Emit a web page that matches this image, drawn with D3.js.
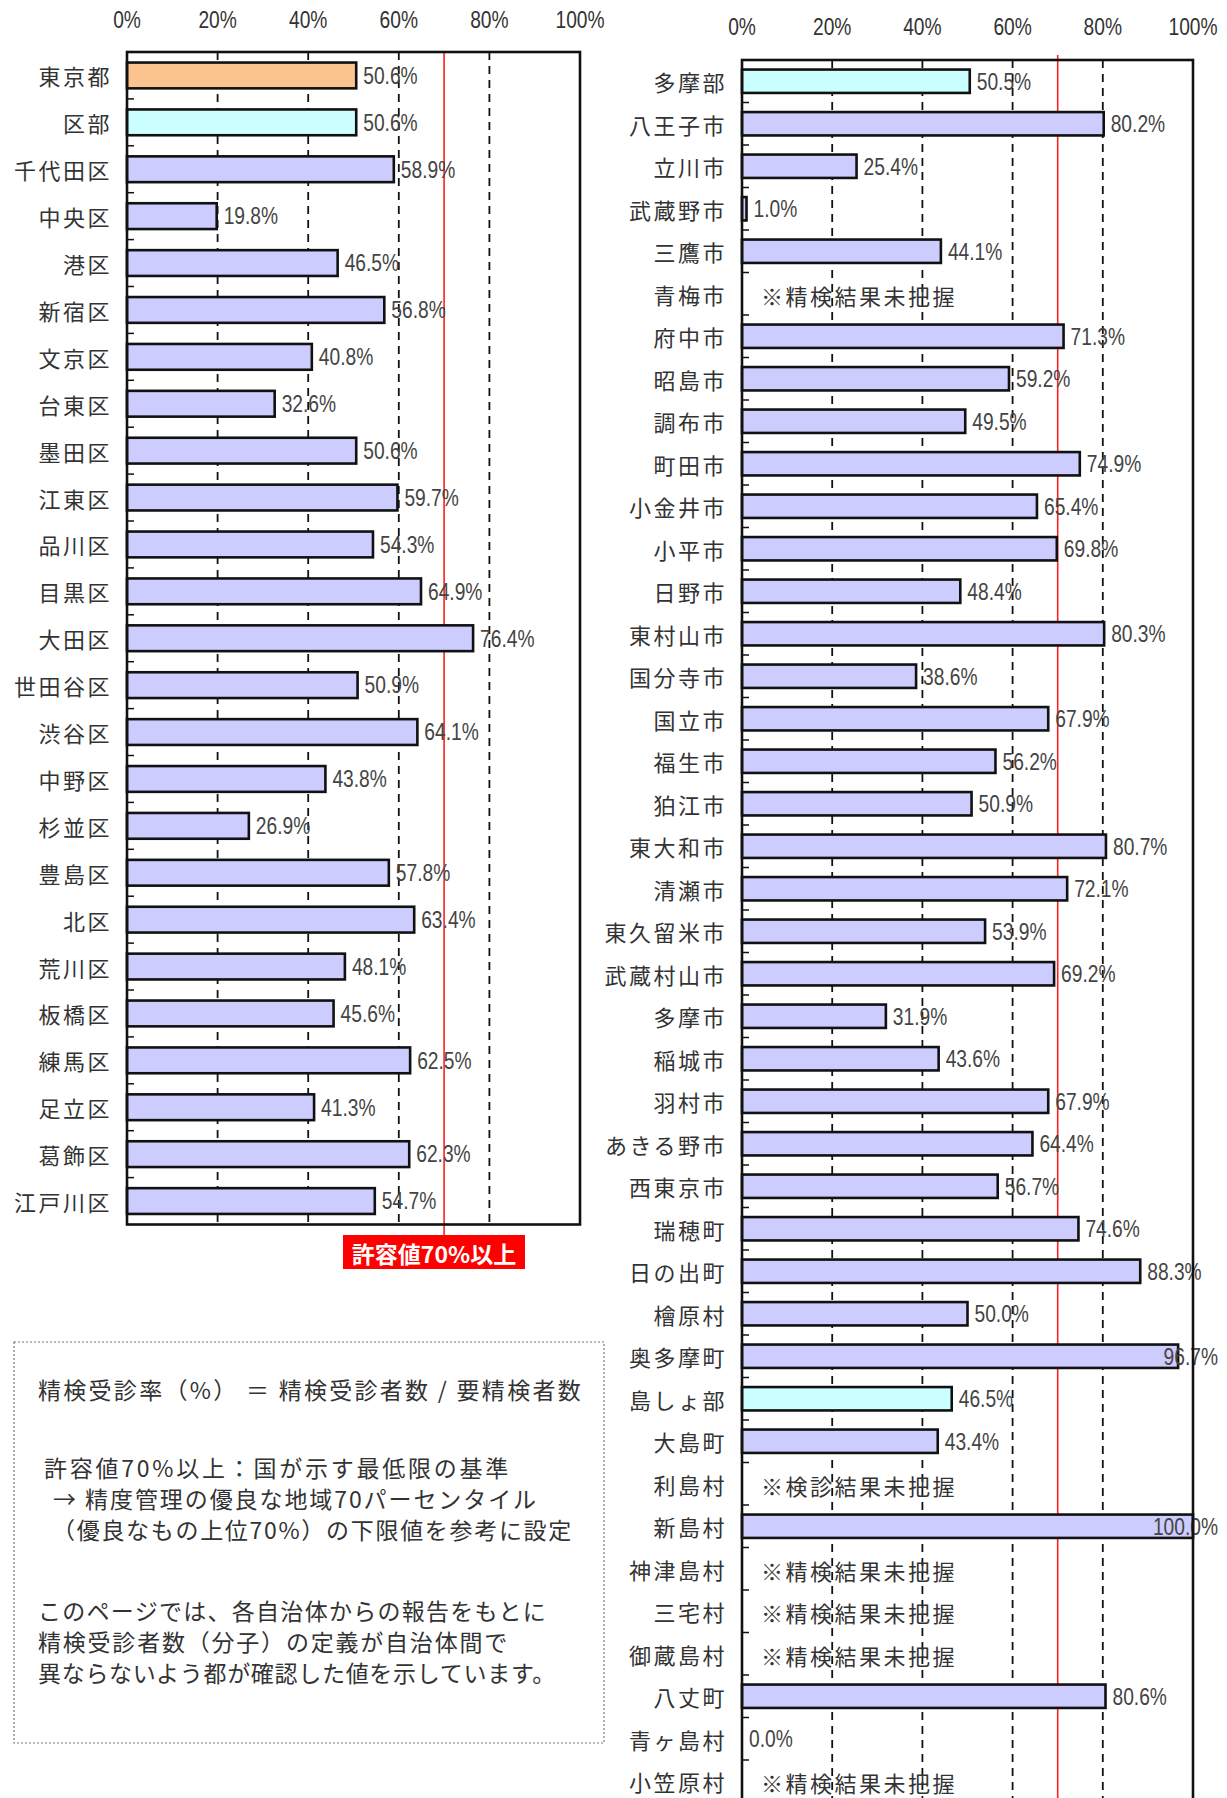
<!DOCTYPE html>
<html>
<head>
<meta charset="utf-8">
<script src="https://cdn.jsdelivr.net/npm/d3@7"></script>
<style>
  html, body { margin: 0; padding: 0; background: #fff; }
  svg { display: block; }
  .cat { font-family: "Noto Sans CJK JP", sans-serif; font-size: 22px; letter-spacing: 2.5px; fill: #333; }
  .num { font-family: "Liberation Sans", Arial, sans-serif; font-size: 24px; fill: #444; }
  .note { font-family: "Noto Sans CJK JP", sans-serif; font-size: 22px; letter-spacing: 2.5px; fill: #333; }
  .box { font-family: "Noto Sans CJK JP", sans-serif; font-size: 23px; fill: #333; }
</style>
</head>
<body>
<svg id="chart" width="1227" height="1798"></svg>
<script>
// ---------- data ----------
const leftCategories = ["東京都","区部","千代田区","中央区","港区","新宿区","文京区","台東区","墨田区","江東区","品川区","目黒区","大田区","世田谷区","渋谷区","中野区","杉並区","豊島区","北区","荒川区","板橋区","練馬区","足立区","葛飾区","江戸川区"];
const leftValues = [50.6,50.6,58.9,19.8,46.5,56.8,40.8,32.6,50.6,59.7,54.3,64.9,76.4,50.9,64.1,43.8,26.9,57.8,63.4,48.1,45.6,62.5,41.3,62.3,54.7];
const leftKinds = ["total","sub","city","city","city","city","city","city","city","city","city","city","city","city","city","city","city","city","city","city","city","city","city","city","city"];

const rightCategories = ["多摩部","八王子市","立川市","武蔵野市","三鷹市","青梅市","府中市","昭島市","調布市","町田市","小金井市","小平市","日野市","東村山市","国分寺市","国立市","福生市","狛江市","東大和市","清瀬市","東久留米市","武蔵村山市","多摩市","稲城市","羽村市","あきる野市","西東京市","瑞穂町","日の出町","檜原村","奥多摩町","島しょ部","大島町","利島村","新島村","神津島村","三宅村","御蔵島村","八丈町","青ヶ島村","小笠原村"];
const rightValues = [50.5,80.2,25.4,1.0,44.1,null,71.3,59.2,49.5,74.9,65.4,69.8,48.4,80.3,38.6,67.9,56.2,50.9,80.7,72.1,53.9,69.2,31.9,43.6,67.9,64.4,56.7,74.6,88.3,50.0,96.7,46.5,43.4,null,100.0,null,null,null,80.6,0.0,null];
const rightKinds = ["sub","city","city","city","city","city","city","city","city","city","city","city","city","city","city","city","city","city","city","city","city","city","city","city","city","city","city","city","city","city","city","sub","city","city","city","city","city","city","city","city","city"];
const rightNotes = ["","","","","","※精検結果未把握","","","","","","","","","","","","","","","","","","","","","","","","","","","","※検診結果未把握","","※精検結果未把握","※精検結果未把握","※精検結果未把握","","","※精検結果未把握"];

const tickValues = [0,20,40,60,80,100];
const gridValues = [20,40,60,80];
const threshold = 70;
const thresholdLabel = "許容値70%以上";
const noteParagraphs = [
  ["精検受診率（%） ＝ 精検受診者数 / 要精検者数"],
  ["許容値70%以上：国が示す最低限の基準",
   " → 精度管理の優良な地域70パーセンタイル",
   "（優良なもの上位70%）の下限値を参考に設定"],
  ["このページでは、各自治体からの報告をもとに",
   "精検受診者数（分子）の定義が自治体間で",
   "異ならないよう都が確認した値を示しています。"]
];

const colors = { total: "#FBC38E", sub: "#CCFFFF", city: "#CCCCFF" };
const NARROW = 0.8;

const svg = d3.select("#chart");

function drawPanel(opt) {
  const g = svg.append("g");
  const x = d3.scaleLinear().domain([0, 100]).range([opt.left, opt.right]);
  const y = d3.scaleBand().domain(opt.categories).range([opt.top, opt.top + opt.step * opt.categories.length])
    .paddingInner(opt.pad).paddingOuter(opt.pad / 2);
  const bottom = Math.min(opt.top + opt.step * opt.categories.length, 1800);

  g.selectAll("line.grid").data(gridValues).join("line")
    .attr("x1", d => x(d)).attr("x2", d => x(d))
    .attr("y1", opt.top).attr("y2", bottom)
    .attr("stroke", "#111").attr("stroke-width", 1.8).attr("stroke-dasharray", "8,6");

  const bounds = opt.categories.slice(1).map((c) => y(c) - y.step() * y.paddingInner() / 2);
  g.selectAll("line.ytick").data(bounds).join("line")
    .attr("x1", opt.left).attr("x2", opt.left + 7)
    .attr("y1", d => d).attr("y2", d => d)
    .attr("stroke", "#111").attr("stroke-width", 1.5);

  g.append("line")
    .attr("x1", x(threshold)).attr("x2", x(threshold))
    .attr("y1", opt.redTop).attr("y2", opt.redBottom)
    .attr("stroke", "#FF2020").attr("stroke-width", 1.6);

  const data = opt.categories.map((c, i) => ({ c, v: opt.values[i], k: opt.kinds[i], n: opt.notes ? opt.notes[i] : "" }));
  g.selectAll("rect.bar").data(data.filter(d => d.v !== null && d.v > 0)).join("rect")
    .attr("x", x(0)).attr("y", d => y(d.c))
    .attr("width", d => x(d.v) - x(0)).attr("height", y.bandwidth())
    .attr("fill", d => colors[d.k]).attr("stroke", "#111").attr("stroke-width", 2.6);

  // value labels (horizontally condensed via transform)
  const vals = g.selectAll("text.val").data(data.filter(d => d.v !== null)).join("text")
    .attr("class", "num")
    .attr("x", 0).attr("y", 0)
    .attr("dominant-baseline", "central")
    .text(d => d.v.toFixed(1) + "%");
  vals.attr("transform", function (d) {
    const w = this.getComputedTextLength() * NARROW;
    const tx = Math.min(x(d.v) + 7, opt.labelLimit - w);
    const ty = y(d.c) + y.bandwidth() / 2;
    return `translate(${tx},${ty}) scale(${NARROW},1)`;
  });

  g.selectAll("text.miss").data(data.filter(d => d.v === null && d.n)).join("text")
    .attr("class", "note")
    .attr("x", x(0) + 19)
    .attr("y", d => y(d.c) + y.bandwidth() / 2 + 1)
    .attr("dominant-baseline", "central")
    .text(d => d.n);

  g.selectAll("text.cat").data(opt.categories).join("text")
    .attr("class", "cat")
    .attr("x", opt.left - 15)
    .attr("y", d => y(d) + y.bandwidth() / 2)
    .attr("text-anchor", "end")
    .attr("dominant-baseline", "central")
    .text(d => d);

  g.selectAll("text.xt").data(tickValues).join("text")
    .attr("class", "num")
    .attr("x", 0).attr("y", 0)
    .attr("transform", d => `translate(${x(d)},${opt.tickY}) scale(${NARROW},1)`)
    .attr("text-anchor", "middle").attr("dominant-baseline", "central")
    .style("fill", "#333")
    .text(d => d + "%");

  g.append("rect")
    .attr("x", opt.left).attr("y", opt.top)
    .attr("width", opt.right - opt.left).attr("height", opt.step * opt.categories.length)
    .attr("fill", "none").attr("stroke", "#111").attr("stroke-width", 2.6);

  return { x, y };
}

drawPanel({
  categories: leftCategories, values: leftValues, kinds: leftKinds,
  left: 127, right: 580, top: 52, step: 46.9, pad: 0.45,
  tickY: 20, redTop: 52, redBottom: 1236, labelLimit: 1218
});

svg.append("rect").attr("x", 343).attr("y", 1235).attr("width", 182).attr("height", 34).attr("fill", "#FF0000");
svg.append("text")
  .attr("x", 343 + 91).attr("y", 1252.5)
  .attr("text-anchor", "middle").attr("dominant-baseline", "central")
  .style("font-family", "'Noto Sans CJK JP', sans-serif").style("font-size", "23px").style("font-weight", "bold")
  .style("fill", "#fff")
  .text(thresholdLabel);

drawPanel({
  categories: rightCategories, values: rightValues, kinds: rightKinds, notes: rightNotes,
  left: 742, right: 1193, top: 60, step: 42.5, pad: 0.45,
  tickY: 27, redTop: 55, redBottom: 1800, labelLimit: 1218
});

// Explanatory box
svg.append("rect").attr("x", 14).attr("y", 1342).attr("width", 590).attr("height", 401)
  .attr("fill", "none").attr("stroke", "#777").attr("stroke-width", 1.2).attr("stroke-dasharray", "2,2");
const paraY = [1389, 1467, 1610];
const lineX = [[38], [44, 46, 52], [38, 38, 38]];
const lineW = [[545], [467, 492, 521], [509, 471, 518]];
const lineGap = 31;
noteParagraphs.forEach((lines, p) => {
  const t = svg.append("text").attr("class", "box").attr("dominant-baseline", "central");
  lines.forEach((ln, i) => {
    const ts = t.append("tspan")
      .attr("x", lineX[p][i]).attr("y", paraY[p] + i * lineGap)
      .attr("dominant-baseline", "central")
      .text(ln);
    const w = ts.node().getComputedTextLength();
    const n = Array.from(ln).length;
    ts.style("letter-spacing", ((lineW[p][i] - w) / n) + "px");
  });
});
</script>
</body>
</html>
